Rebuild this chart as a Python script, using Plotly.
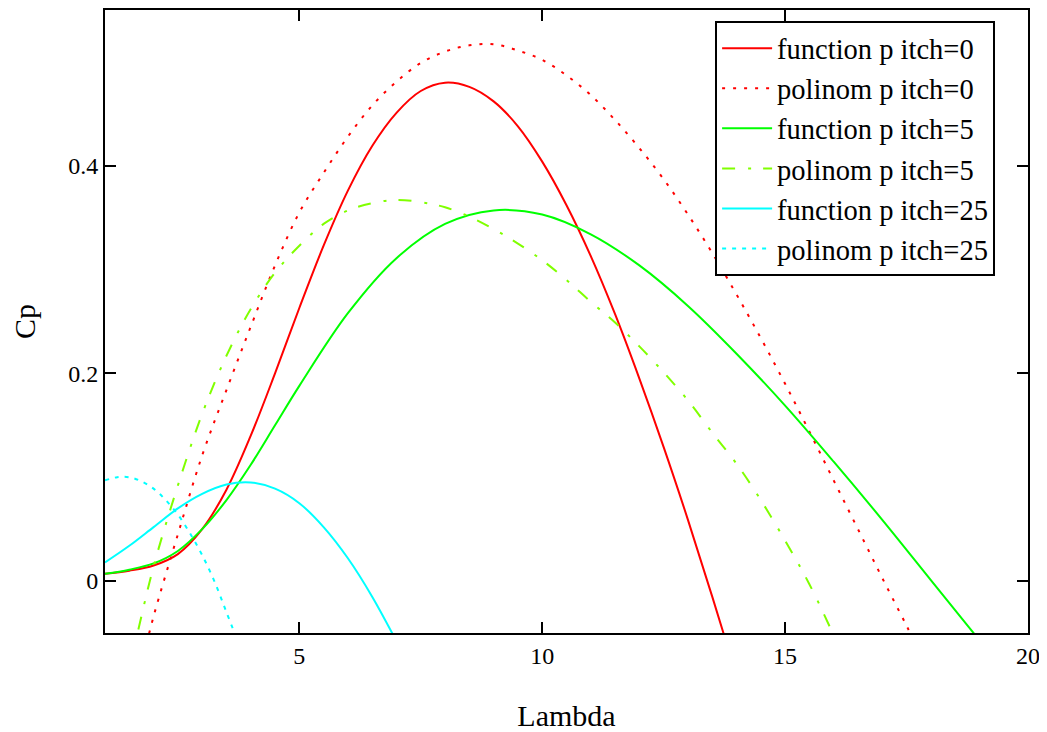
import plotly.graph_objects as go

# ---------------- data ----------------
lam_func0 = [1, 1.5, 2, 2.5, 3, 3.5, 4, 4.5, 5, 5.5, 6, 6.5, 7, 7.5, 8, 8.5, 9, 9.5,
             10, 10.5, 11, 11.5, 12, 12.5, 13, 13.5, 14]
cp_func0 = [0.007, 0.010, 0.015, 0.026, 0.050, 0.088, 0.140, 0.200, 0.263, 0.323,
            0.376, 0.419, 0.451, 0.472, 0.480, 0.476, 0.462, 0.438, 0.404, 0.362,
            0.313, 0.257, 0.195, 0.129, 0.059, -0.015, -0.091]

lam_poly0 = [1.8, 2.0, 2.5, 3.0, 3.5, 4.0, 4.5, 5.0, 5.5, 6.0, 6.5, 7.0, 7.5, 8.0,
             8.5, 9.0, 9.5, 10.0, 10.5, 11.0, 11.5, 12.0, 12.5, 13.0, 13.5, 14.0,
             14.5, 15.0, 15.5, 16.0, 16.5, 17.0, 17.5, 17.8]
cp_poly0 = [-0.071, -0.034, 0.045, 0.121, 0.184, 0.245, 0.304, 0.355, 0.393, 0.428,
            0.458, 0.481, 0.499, 0.510, 0.516, 0.517, 0.511, 0.502, 0.487, 0.468,
            0.444, 0.417, 0.387, 0.353, 0.316, 0.276, 0.234, 0.190, 0.144, 0.097,
            0.050, 0.003, -0.043, -0.071]

lam_func5 = [1, 1.5, 2, 2.5, 3, 3.5, 4, 4.5, 5, 6, 7, 8, 9, 10, 11, 12, 13, 14,
             15, 16, 17, 18, 19]
cp_func5 = [0.007, 0.011, 0.017, 0.029, 0.050, 0.078, 0.112, 0.150, 0.188, 0.258,
            0.311, 0.344, 0.357, 0.353, 0.334, 0.304, 0.265, 0.219, 0.169, 0.115,
            0.059, 0.001, -0.057]

lam_poly5 = [1.5, 1.67, 2.0, 2.5, 3.0, 3.5, 4.0, 4.5, 5.0, 5.5, 6.0, 6.5, 7.0, 7.5,
             8.0, 8.5, 9.0, 9.5, 10.0, 10.5, 11.0, 11.5, 12.0, 12.5, 13.0, 13.5,
             14.0, 14.5, 15.0, 15.5, 16.0, 16.2]
cp_poly5 = [-0.085, -0.050, 0.014, 0.092, 0.161, 0.217, 0.262, 0.297, 0.323, 0.344,
            0.357, 0.364, 0.367, 0.365, 0.360, 0.351, 0.339, 0.325, 0.309, 0.290,
            0.269, 0.249, 0.226, 0.201, 0.174, 0.143, 0.113, 0.078, 0.039, -0.003,
            -0.052, -0.072]

lam_func25 = [1, 1.5, 2, 2.5, 3, 3.5, 4, 4.5, 5, 5.5, 6, 6.5, 7]
cp_func25 = [0.018, 0.034, 0.052, 0.070, 0.084, 0.093, 0.095, 0.089, 0.075, 0.052,
             0.022, -0.015, -0.058]

lam_poly25 = [1.0, 1.25, 1.5, 1.75, 2.0, 2.25, 2.5, 2.75, 3.0, 3.25, 3.5, 3.75]
cp_poly25 = [0.097, 0.100, 0.100, 0.096, 0.089, 0.078, 0.064, 0.046, 0.025, 0.0,
             -0.030, -0.060]

series_names = ["function p itch=0", "polinom p itch=0", "function p itch=5",
                "polinom p itch=5", "function p itch=25", "polinom p itch=25"]

x_ticks = [5, 10, 15, 20]
x_ticktext = ["5", "10", "15", "20"]
y_ticks = [0, 0.2, 0.4]
y_ticktext = ["0", "0.2", "0.4"]

x_title = "Lambda"
y_title = "Cp"

# ---------------- figure ----------------
FONT = "Liberation Serif, Times New Roman, serif"

styles = [
    dict(color="#FF0000", dash="solid"),
    dict(color="#FF0000", dash="3px,8px"),
    dict(color="#00FF00", dash="solid"),
    dict(color="#80FF00", dash="13px,13px,3px,12px"),
    dict(color="#00FFFF", dash="solid"),
    dict(color="#00FFFF", dash="4px,6px"),
]
xs = [lam_func0, lam_poly0, lam_func5, lam_poly5, lam_func25, lam_poly25]
ys = [cp_func0, cp_poly0, cp_func5, cp_poly5, cp_func25, cp_poly25]

fig = go.Figure()
for name, x, y, st in zip(series_names, xs, ys, styles):
    fig.add_trace(go.Scatter(
        x=x, y=y, mode="lines", name=name,
        line=dict(color=st["color"], dash=st["dash"], width=2,
                  shape="spline", smoothing=1.0),
        hoverinfo="skip",
    ))

axis_common = dict(
    showline=True, linecolor="black", linewidth=2, mirror="allticks",
    ticks="inside", ticklen=11, tickwidth=2, tickcolor="black",
    showgrid=False, zeroline=False, automargin=False,
    tickfont=dict(family=FONT, size=24, color="black"),
)

# the page has an 8px body margin, so the figure is 8px smaller
fig.update_layout(
    width=1039, height=724,
    margin=dict(l=97, r=19, t=2, b=99),
    paper_bgcolor="white", plot_bgcolor="white",
    font=dict(family=FONT, color="black"),
    showlegend=True,
    legend=dict(
        x=0.661, y=0.982, xanchor="left", yanchor="top",
        bgcolor="white", bordercolor="black", borderwidth=2,
        font=dict(family=FONT, size=28.5, color="black"),
        itemwidth=50, tracegroupgap=0,
    ),
    xaxis=dict(
        range=[1, 20], tickmode="array", tickvals=x_ticks, ticktext=x_ticktext,
        title=dict(text=x_title, font=dict(family=FONT, size=30, color="black"),
                   standoff=44),
        **axis_common,
    ),
    yaxis=dict(
        range=[-0.05, 0.55], tickmode="array", tickvals=y_ticks, ticktext=y_ticktext,
        title=dict(text=y_title, font=dict(family=FONT, size=30, color="black"),
                   standoff=37),
        **axis_common,
    ),
)

fig.write_html("out.html")
